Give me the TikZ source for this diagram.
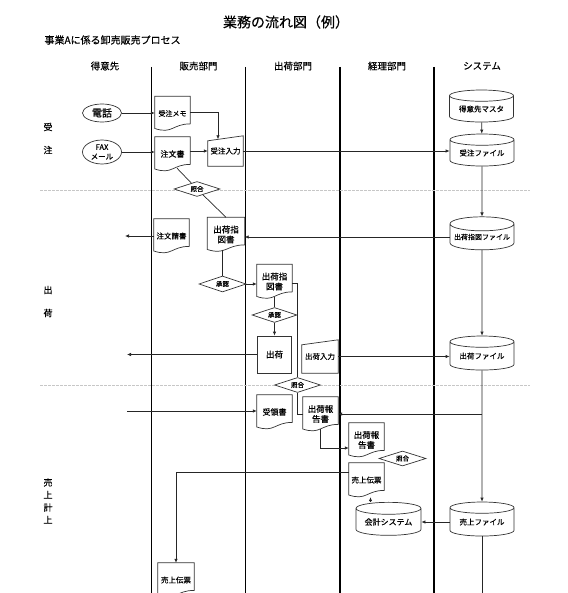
\documentclass[tikz,border=0pt]{standalone}
\usepackage{fontspec}
\setmainfont{Noto Sans CJK JP}[FakeBold=0.4]
\usetikzlibrary{shapes.geometric,arrows.meta}

\begin{document}
\begin{tikzpicture}
[
x=1pt, y=-1pt,
>={Latex[length=4pt,width=3.5pt]},
Outline/.style={draw=black!80, line width=0.7pt},
Lane/.style={draw=black, line width=1.3pt},
PhaseBorder/.style={draw=black!22, line width=0.8pt, dash pattern=on 3pt off 1pt},
Flow/.style={draw=black!85, line width=0.7pt},
FlowArrow/.style={->, Flow},
Header/.style={font=\fontsize{9.5}{11}\selectfont},
Phase/.style={font=\fontsize{9}{12.5}\selectfont, align=center},
Document/.style={rectangle, minimum width=35pt, minimum height=34pt, inner sep=0pt,
  align=center, font=\fontsize{8}{10}\selectfont,
  append after command={\pgfextra{\draw[Outline]
    (\tikzlastnode.north west) -- (\tikzlastnode.north east)
    -- ([yshift=6.8pt]\tikzlastnode.south east)
    .. controls ([yshift=6.8pt]\tikzlastnode.south) and ([yshift=-3.7pt]\tikzlastnode.south)
    .. ([yshift=2.2pt]\tikzlastnode.south west) -- cycle;}}},
ManualInput/.style={rectangle, minimum width=35pt, minimum height=30pt, inner sep=0pt,
  font=\fontsize{7.5}{9}\selectfont,
  append after command={\pgfextra{\draw[Outline]
    (\tikzlastnode.south west) -- ([yshift=-5pt]\tikzlastnode.north west)
    -- (\tikzlastnode.north east) -- (\tikzlastnode.south east) -- cycle;}}},
Process/.style={rectangle, Outline, minimum width=34pt, minimum height=37pt, inner sep=0pt, font=\fontsize{8.5}{10}\selectfont},
DataFile/.style={cylinder, shape border rotate=90, aspect=0.25, Outline, minimum width=64pt, minimum height=33pt, inner sep=0pt, font=\fontsize{7.5}{9}\selectfont},
Check/.style={diamond, aspect=3, Outline, fill=white, minimum width=46pt, minimum height=15pt, inner sep=0pt, font=\fontsize{6.5}{7}\selectfont},
Terminal/.style={ellipse, Outline, minimum width=39pt, inner sep=0pt, align=center},
]

\useasboundingbox (0,0) rectangle (567,593);
\clip (0,0) rectangle (567,593);

\node[font=\fontsize{14}{16}\selectfont] (title) at (286,22) {業務の流れ図（例）};
\node[anchor=west, font=\fontsize{10}{12}\selectfont] (subtitle) at (41,40) {事業Aに係る卸売販売プロセス};

% lanes
\node[Header] (h1) at (105,66) {得意先};
\node[Header] (h2) at (198.5,66) {販売部門};
\node[Header] (h3) at (293,66) {出荷部門};
\node[Header] (h4) at (387,66) {経理部門};
\node[Header] (h5) at (482,66) {システム};

\draw[Lane] (151.5,67)--(151.5,593);
\draw[Lane] (245.5,67)--(245.5,593);
\draw[Lane] (340,67)--(340,593);
\draw[Lane] (434,67)--(434,593);

\draw[PhaseBorder] (40,190)--(530,190);
\draw[PhaseBorder] (40,385)--(530,385);

\node[Phase] (p1a) at (48,127) {受};
\node[Phase] (p1b) at (48,150) {注};
\node[Phase] (p2a) at (48,290) {出};
\node[Phase] (p2b) at (48,313) {荷};
\node[Phase] (p3) at (48,501) {売\\上\\計\\上};

% 受注
\node[Terminal, minimum height=18pt, font=\fontsize{10}{11}\selectfont] (denwa) at (102,113) {電話};
\node[Terminal, minimum height=24pt, font=\fontsize{7.5}{9.5}\selectfont] (fax) at (102,152) {FAX\\メール};
\node[Document, font=\fontsize{7}{8}\selectfont] (memo) at (172.5,113.5) {受注メモ};
\node[Document] (chumon) at (172.5,154) {注文書};
\node[ManualInput] (ukeire) at (225.5,151) {受注入力};
\node[DataFile, minimum height=32pt] (tokuimaster) at (481.5,109) {得意先マスタ};
\node[DataFile, minimum height=32pt] (juchufile) at (482,153) {受注ファイル};
\node[Check] (shogo1) at (197,189) {照合};

% 出荷
\node[Document, font=\fontsize{7.5}{9}\selectfont] (seikyu) at (171.5,236) {注文請書};
\node[Document, minimum width=37pt, font=\fontsize{8.5}{10}\selectfont] (shiji1) at (226,234.5) {出荷指\\図書};
\node[DataFile, font=\fontsize{7}{8}\selectfont] (shijifile) at (482,237) {出荷指図ファイル};
\node[Check, minimum width=47pt, minimum height=16pt] (shonin1) at (222.5,284) {承認};
\node[Document, font=\fontsize{8.5}{10}\selectfont] (shiji2) at (274.5,281.5) {出荷指\\図書};
\node[Check, minimum width=45pt] (shonin2) at (274.5,315) {承認};
\node[Process] (shukka) at (274.5,354.5) {出荷};
\node[ManualInput, minimum width=36pt, minimum height=33pt] (nyuryoku) at (320,356.5) {出荷入力};
\node[DataFile, minimum height=34pt] (shukkafile) at (482,356) {出荷ファイル};
\node[Check] (shogo2) at (297.5,385) {照合};

% 売上計上
\node[Document] (juryo) at (274.5,412) {受領書};
\node[Document, font=\fontsize{8.5}{10}\selectfont] (hokoku1) at (320.5,414) {出荷報\\告書};
\node[Document, font=\fontsize{8.5}{10}\selectfont] (hokoku2) at (366.5,440) {出荷報\\告書};
\node[Check, minimum width=47pt] (shogo3) at (402.5,458.5) {照合};
\node[Document, font=\fontsize{7.5}{9}\selectfont] (denpyo1) at (366.5,480) {売上伝票};
\node[DataFile, minimum width=65pt, font=\fontsize{8}{9}\selectfont] (kaikei) at (388.5,522) {会計システム};
\node[DataFile, minimum height=34pt] (uriagefile) at (482,522) {売上ファイル};
\node[Document, minimum width=36pt, font=\fontsize{7.5}{9}\selectfont] (denpyo2) at (176,580) {売上伝票};

\coordinate (tokuiout1) at (125,236);
\coordinate (tokuiout2) at (127,355);
\coordinate (tokuiin) at (127,411);
\coordinate (sysend) at (482,593);

% connectors
\draw[FlowArrow] (denwa.east) -- (denwa.east -| memo.west);
\draw[FlowArrow] (fax.east) -- (fax.east -| chumon.west);
\draw[FlowArrow] ([yshift=1.5pt]memo.east) -| ([xshift=-7.5pt,yshift=-3.5pt]ukeire.north);
\draw[FlowArrow] (chumon.east |- ukeire.west) -- (ukeire.west);
\draw[FlowArrow] (ukeire.east) -- (ukeire.east -| juchufile.west);
\draw[FlowArrow] (tokuimaster) -- (juchufile);
\draw[FlowArrow] (juchufile) -- (shijifile);
\draw[Flow] ([xshift=4.5pt,yshift=3pt]chumon.south) -- (shogo1);
\draw[Flow] (shogo1) -- (shiji1.north);

\draw[FlowArrow] (seikyu.west) -- (seikyu.west -| tokuiout1);
\draw[FlowArrow] (shijifile.west) -- (shijifile.west -| shiji1.east);
\draw[Flow] ([yshift=2pt]shiji1.south -| shonin1) -- (shonin1.north);
\draw[FlowArrow] (shonin1.east) -- (shonin1.east -| shiji2.west);
\draw[Flow] ([yshift=2pt]shiji2.south) -- (shonin2.north);
\draw[FlowArrow] (shonin2.south) -- (shukka.north);
\draw[FlowArrow] (shukka.west) -- (shukka.west -| tokuiout2);
\draw[Flow] ([yshift=-2pt]shiji2.east) -| (shogo2.north);
\draw[Flow] (shogo2.south) |- (hokoku1.west);
\draw[FlowArrow] (nyuryoku.east) -- (nyuryoku.east -| shukkafile.west);
\draw[FlowArrow] (shijifile) -- (shukkafile);
\draw[FlowArrow] (shukkafile) -- (uriagefile);

\draw[FlowArrow] (shukkafile |- hokoku1.east) -- (hokoku1.east);
\draw[FlowArrow] (tokuiin) -- (tokuiin -| juryo.west);
\draw[FlowArrow] ([yshift=2pt]hokoku1.south) |- ([yshift=-8pt]hokoku2.west);
\draw[FlowArrow] ([yshift=8pt]denpyo1.west) -| (denpyo2.north);
\draw[FlowArrow] ([xshift=-18pt]kaikei.north) -- ([xshift=-18pt]kaikei.north |- denpyo1.south);
\draw[FlowArrow] (uriagefile.west) -- (uriagefile.west -| kaikei.east);
\draw[Flow] (uriagefile) -- (sysend);

\end{tikzpicture}
\end{document}
